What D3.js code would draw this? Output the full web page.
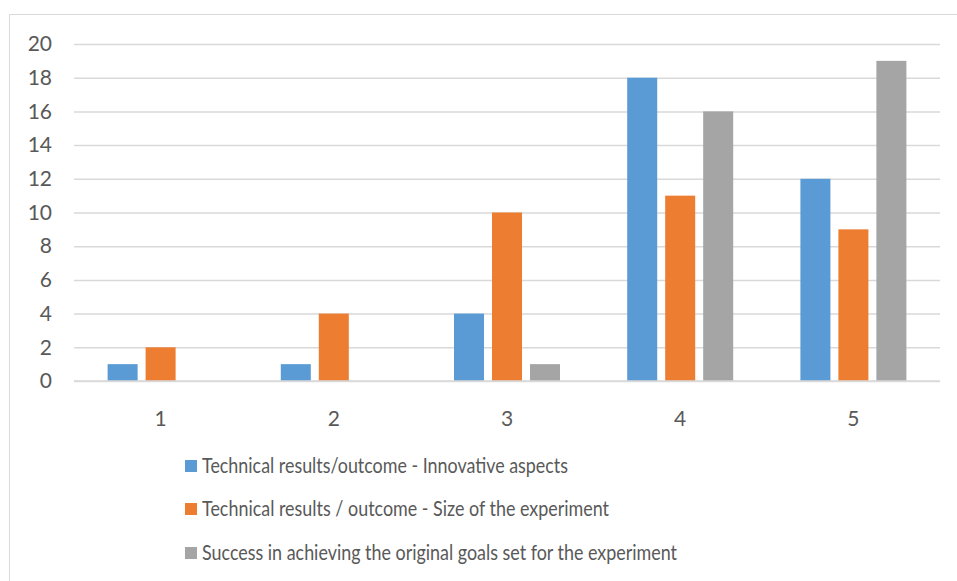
<!DOCTYPE html>
<html>
<head>
<meta charset="utf-8">
<script src="https://cdn.jsdelivr.net/npm/d3@7"></script>
<style>
  html, body { margin: 0; padding: 0; background: #fff; }
  svg { display: block; font-family: Lato, "Open Sans", sans-serif; }
</style>
</head>
<body>
<svg id="chart" width="957" height="581"></svg>
<script>
// Survey scores 1..5 and how many responses fell on each, per question
const categories = ["1", "2", "3", "4", "5"];
const seriesNames = [
  "Technical results/outcome - Innovative aspects",
  "Technical results / outcome - Size of the experiment",
  "Success in achieving the original goals set for the experiment"
];
const innovative = [1, 1, 4, 18, 12];
const sizeOfExperiment = [2, 4, 10, 11, 9];
const originalGoals = [0, 0, 1, 16, 19];
const yTicks = [0, 2, 4, 6, 8, 10, 12, 14, 16, 18, 20];
const colors = ["#5B9BD5", "#ED7D31", "#A5A5A5"];

const seriesValues = [innovative, sizeOfExperiment, originalGoals];

(function draw() {
  const svg = d3.select("#chart");
  const W = 957, H = 581;
  const plotLeft = 74, plotRight = 940, plotTop = 44, plotBottom = 381;

  // chart frame
  svg.append("path")
    .attr("d", `M9.5,${H} V14.5 H${W}`)
    .attr("fill", "none")
    .attr("stroke", "#d9d9d9")
    .attr("stroke-width", 1);

  const x = d3.scaleBand().domain(categories).range([plotLeft, plotRight]).paddingInner(0).paddingOuter(0);
  const y = d3.scaleLinear().domain([0, 20]).range([plotBottom, plotTop]);

  // gridlines and value labels
  const yAxis = d3.axisLeft(y).tickValues(yTicks).tickSize(-(plotRight - plotLeft)).tickPadding(22).tickFormat(d3.format("d"));
  const gy = svg.append("g").attr("transform", `translate(${plotLeft},0)`).call(yAxis);
  gy.select(".domain").remove();
  gy.selectAll(".tick line").attr("stroke", "#d9d9d9").attr("stroke-width", 1.5);
  gy.selectAll(".tick text")
    .attr("fill", "#595959")
    .attr("font-size", 21)
    .attr("font-family", "Lato, sans-serif");

  // bars: three per group, fixed width with small gaps
  const groupPad = 33.6;
  const inner = d3.scaleBand().domain(d3.range(seriesValues.length))
    .range([groupPad, x.bandwidth() - groupPad]).paddingInner(0.21).paddingOuter(0);

  const groups = svg.append("g").selectAll("g")
    .data(categories)
    .join("g")
    .attr("transform", d => `translate(${x(d)},0)`);

  groups.selectAll("rect")
    .data((c, ci) => seriesValues.map((vals, si) => ({ si, v: vals[ci] })).filter(d => d.v > 0))
    .join("rect")
    .attr("x", d => inner(d.si))
    .attr("width", inner.bandwidth())
    .attr("y", d => y(d.v))
    .attr("height", d => y(0) - y(d.v))
    .attr("fill", d => colors[d.si]);

  // baseline gridline over the bars
  svg.append("line")
    .attr("x1", plotLeft).attr("x2", plotRight)
    .attr("y1", y(0)).attr("y2", y(0))
    .attr("stroke", "#d9d9d9").attr("stroke-width", 1.5);

  // category labels
  const xAxis = d3.axisBottom(x).tickSize(0).tickPadding(30);
  const gx = svg.append("g").attr("transform", `translate(0,${plotBottom})`).call(xAxis);
  gx.select(".domain").remove();
  gx.selectAll(".tick text")
    .attr("fill", "#595959")
    .attr("font-size", 21)
    .attr("font-family", "Lato, sans-serif");

  // legend
  const legendRows = [473, 516, 560];
  const legendEnds = [568, 609, 677];
  const legend = svg.append("g");
  seriesNames.forEach((name, i) => {
    legend.append("rect")
      .attr("x", 185).attr("y", legendRows[i] - 13)
      .attr("width", 12).attr("height", 12)
      .attr("fill", colors[i]);
    legend.append("text")
      .attr("x", 202).attr("y", legendRows[i])
      .attr("fill", "#595959")
      .attr("font-size", 21)
      .attr("textLength", legendEnds[i] - 202)
      .attr("lengthAdjust", "spacingAndGlyphs")
      .text(name);
  });
})();
</script>
</body>
</html>
